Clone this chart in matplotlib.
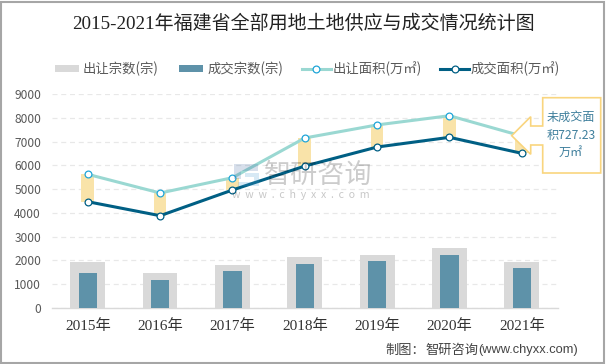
import matplotlib
matplotlib.use("Agg")
import matplotlib.pyplot as plt
from matplotlib.patches import Polygon, Rectangle
from matplotlib.lines import Line2D

plt.rcParams['font.family'] = ['Noto Sans CJK SC', 'DejaVu Sans']

years = ['2015年', '2016年', '2017年', '2018年', '2019年', '2020年', '2021年']
supply_count = [1920, 1485, 1795, 2130, 2240, 2535, 1947]
deal_count = [1458, 1190, 1543, 1838, 1976, 2240, 1682]
supply_area = [5622, 4836, 5480, 7150, 7700, 8087, 7232]
deal_area = [4470, 3882, 4962, 5970, 6770, 7178, 6505]
y_ticks = [0, 1000, 2000, 3000, 4000, 5000, 6000, 7000, 8000, 9000]

W, H = 606, 364
fig = plt.figure(figsize=(W / 100, H / 100), dpi=100, facecolor='white')
ax = fig.add_axes([51.6 / W, 1 - 308 / H, (558 - 51.6) / W, 214 / H])
x = list(range(len(years)))
serif = ['Liberation Serif', 'Noto Sans CJK SC', 'DejaVu Sans']

LW = 2.2
MS = 4.9
ax.bar(x, supply_count, width=0.48, color='#D9D9D9', zorder=2)
ax.bar(x, deal_count, width=0.25, color='#5E92A9', zorder=3)
ax.bar(x, [s - d for s, d in zip(supply_area, deal_area)], bottom=deal_area,
       width=0.175, color='#F9E3A9', zorder=4)
ax.plot(x, supply_area, color='#9AD8D2', lw=LW, marker='o', ms=MS, mfc='white',
        mec='#1FA5D8', mew=0.9, zorder=5)
ax.plot(x, deal_area, color='#005F84', lw=LW, marker='o', ms=MS, mfc='white',
        mec='#005F84', mew=0.9, zorder=6)

ax.set_xlim(-0.5, 6.5)
ax.set_ylim(0, 9000)
ax.set_yticks(y_ticks)
ax.set_xticks(x)
ax.set_xticklabels(years, fontsize=11, color='#333333', family=serif)
ax.tick_params(axis='both', length=0)
ax.tick_params(axis='x', pad=8)
ax.tick_params(axis='y', pad=7.6, labelsize=8.6, labelcolor='#595959')
ax.grid(axis='y', color='#E8E8E8', lw=0.9, ls=(0, (4, 3)), zorder=0)
ax.set_axisbelow(True)
for s in ['top', 'right', 'left']:
    ax.spines[s].set_visible(False)
ax.spines['bottom'].set_color('#D9D9D9')
ax.spines['bottom'].set_linewidth(1)


def fx(px):
    return px / W


def fy(py):
    return 1 - py / H


# watermark
fig.text(fx(264), fy(175), '智研咨询', fontsize=19.5, color='#000000', alpha=0.2,
         va='center', ha='left', zorder=7)
fig.text(fx(232), fy(194.5), 'w  w  w  .  c  h  y  x  x  .  c  o  m', fontsize=7.6, color='#000000', alpha=0.22,
         va='center', ha='left', zorder=7)
fig.add_artist(Polygon([(fx(234), fy(164)), (fx(258), fy(164)), (fx(258), fy(171)), (fx(241), fy(171)),
                        (fx(241), fy(179)), (fx(234), fy(179))], closed=True, fc='#4A6FA5', ec='none',
                       alpha=0.22, zorder=7))
fig.add_artist(Polygon([(fx(245), fy(173)), (fx(259), fy(173)), (fx(259), fy(186)), (fx(238), fy(186)),
                        (fx(238), fy(182)), (fx(254), fy(182)), (fx(254), fy(177)), (fx(245), fy(177))],
                       closed=True, fc='#4A9FD5', ec='none', alpha=0.22, zorder=7))

# callout
cx = [542.7, 600.7, 600.7, 542.7, 542.7, 530.7, 530.7, 511.7, 530.7, 530.7, 542.7]
cy = [97.7, 97.7, 173, 173, 145, 145, 154.3, 135.7, 116.7, 126, 126]
fig.add_artist(Polygon([(fx(a), fy(b)) for a, b in zip(cx, cy)], closed=True,
                       fc='white', ec='#F9D57E', lw=1.2, zorder=8))
fig.text(fx(571), fy(135), '未成交面\n积727.23\n万㎡', fontsize=8.7, color='#3E7F9C',
         ha='center', va='center', linespacing=1.42, zorder=9,
         family=['Noto Sans CJK SC', 'DejaVu Sans'])

# title
fig.text(fx(303), fy(24), '2015-2021年福建省全部用地土地供应与成交情况统计图', fontsize=13.7,
         color='#222222', ha='center', va='center', family=serif, zorder=9)


# legend
def leg_text(px, s):
    fig.text(fx(px), fy(68.5), s, fontsize=9.6, color='#595959', ha='left', va='center', zorder=9)


fig.add_artist(Rectangle((fx(54.5), fy(72)), 24 / W, 7 / H, fc='#D9D9D9', ec='none'))
leg_text(83, '出让宗数(宗)')
fig.add_artist(Rectangle((fx(179), fy(72)), 24 / W, 7 / H, fc='#5E92A9', ec='none'))
leg_text(207.5, '成交宗数(宗)')
fig.add_artist(Line2D([fx(302), fx(330.5)], [fy(68.5)] * 2, color='#9AD8D2', lw=LW))
fig.add_artist(Line2D([fx(316)], [fy(68.5)], marker='o', ms=MS, mfc='white', mec='#1FA5D8', mew=0.9))
leg_text(333, '出让面积(万㎡)')
fig.add_artist(Line2D([fx(440), fx(469)], [fy(68.5)] * 2, color='#005F84', lw=LW))
fig.add_artist(Line2D([fx(454.5)], [fy(68.5)], marker='o', ms=MS, mfc='white', mec='#005F84', mew=0.9))
leg_text(471, '成交面积(万㎡)')

# source
fig.text(fx(385), fy(350.5), '制图：', fontsize=9.5, color='#444444', ha='left', va='center', zorder=9)
fig.text(fx(425), fy(350.5), '智研咨询', fontsize=9.5, color='#444444', ha='left', va='center', zorder=9)
fig.text(fx(478), fy(350.5), '(www.chyxx.com)', fontsize=9.3, color='#444444', ha='left', va='center',
         zorder=9, family=['Liberation Sans', 'DejaVu Sans'])

# outer border
fig.add_artist(Rectangle((0.5 / W, 1.5 / H), (W - 3) / W, (H - 3) / H, fc='none', ec='#A6A6A6', lw=1.5,
                         transform=fig.transFigure, zorder=10))

fig.savefig('out.png', dpi=100)
